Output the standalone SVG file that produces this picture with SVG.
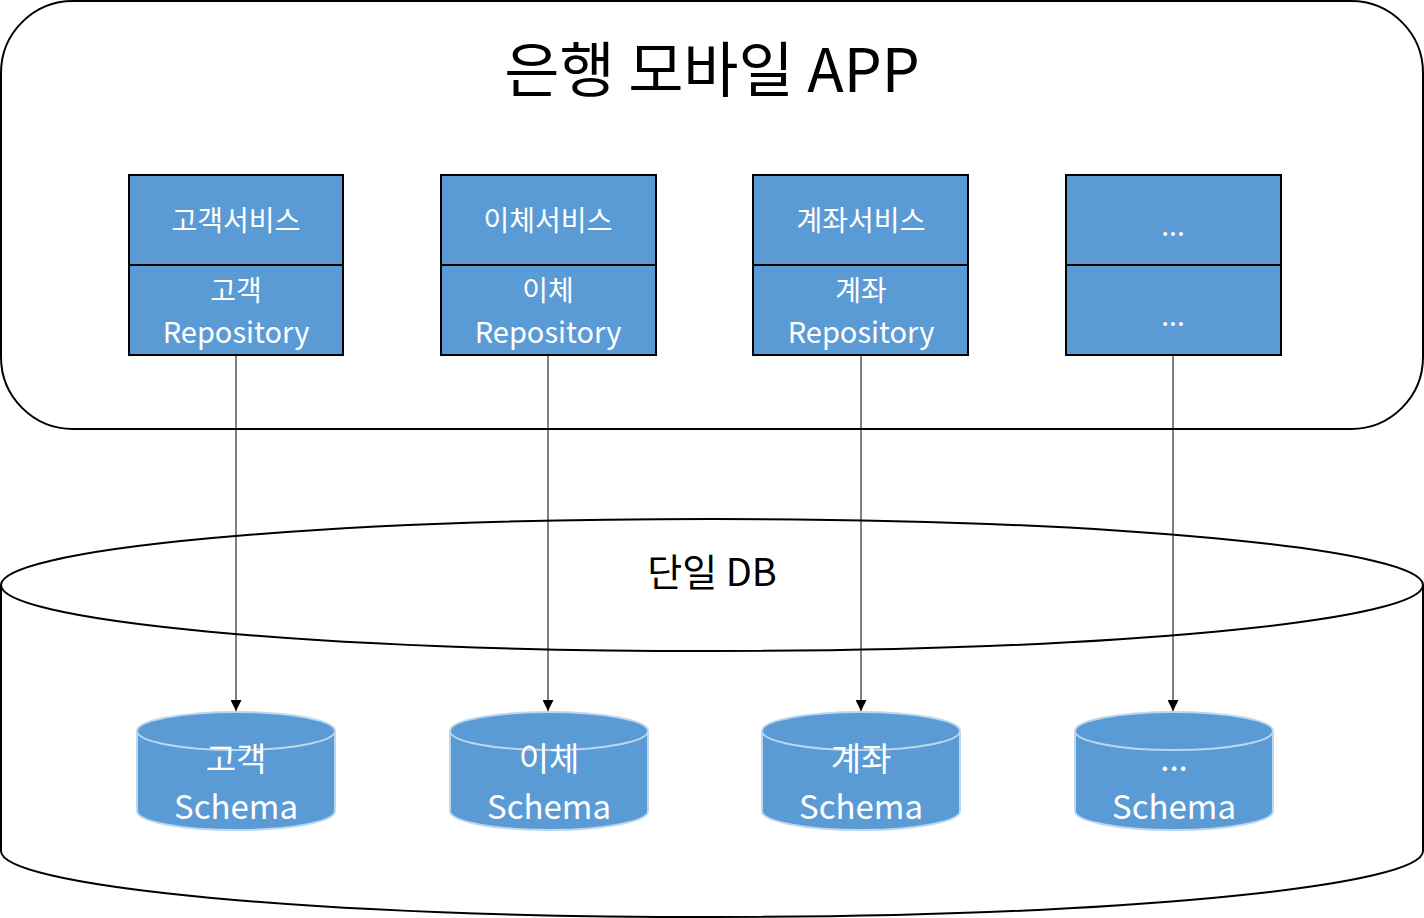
<svg xmlns="http://www.w3.org/2000/svg" width="1424" height="918" viewBox="0 0 1424 918">
<defs>
<style>
.t{font-family:"Noto Sans CJK KR","Noto Sans",sans-serif;text-anchor:middle}
.w{fill:#ffffff;font-size:28px}
.r{font-size:29px}
.s{fill:#ffffff;font-size:33px}
.box{fill:#5B9BD5;stroke:#000;stroke-width:2}
.cyl{fill:#5B9BD5;stroke:#BDD7EE;stroke-width:2}
.con{stroke:#000;stroke-width:1;fill:none}
</style>
<marker id="ah" viewBox="0 0 10 10" refX="10" refY="5" markerWidth="11" markerHeight="11" markerUnits="userSpaceOnUse" orient="auto">
<path d="M0,0 L10,5 L0,10 z" fill="#000"/>
</marker>
</defs>
<rect width="1424" height="918" fill="#fff"/>
<g id="app">
<rect x="1" y="1" width="1422" height="428" rx="72" ry="72" fill="#fff" stroke="#000" stroke-width="2"/>
<text class="t" x="712" y="92" font-size="60" fill="#000">은행 모바일 APP</text>
</g>
<g id="db">
<path d="M1,585 L1,851 A711,66 0 0 0 1423,851 L1423,585" fill="#fff" stroke="#000" stroke-width="2"/>
<ellipse cx="712" cy="585" rx="711" ry="66" fill="#fff" stroke="#000" stroke-width="2"/>
<text class="t" x="712" y="586" font-size="38" fill="#000">단일 DB</text>
</g>
<g id="svc1">
<rect class="box" x="129" y="175" width="214" height="90"/>
<rect class="box" x="129" y="265" width="214" height="90"/>
<text class="t w" x="236" y="231">고객서비스</text>
<text class="t w" x="236" y="301">고객</text>
<text class="t w r" x="236" y="343">Repository</text>
</g>
<g id="svc2">
<rect class="box" x="441" y="175" width="215" height="90"/>
<rect class="box" x="441" y="265" width="215" height="90"/>
<text class="t w" x="548" y="231">이체서비스</text>
<text class="t w" x="548" y="301">이체</text>
<text class="t w r" x="548" y="343">Repository</text>
</g>
<g id="svc3">
<rect class="box" x="753" y="175" width="215" height="90"/>
<rect class="box" x="753" y="265" width="215" height="90"/>
<text class="t w" x="861" y="231">계좌서비스</text>
<text class="t w" x="861" y="301">계좌</text>
<text class="t w r" x="861" y="343">Repository</text>
</g>
<g id="svc4">
<rect class="box" x="1066" y="175" width="215" height="90"/>
<rect class="box" x="1066" y="265" width="215" height="90"/>
<text class="t w" x="1173" y="236">...</text>
<text class="t w" x="1173" y="326">...</text>
</g>
<g id="schema1">
<path class="cyl" d="M137,731 L137,811 A99,19 0 0 0 335,811 L335,731 A99,19 0 0 0 137,731 z"/>
<path class="cyl" d="M137,731 A99,19 0 0 0 335,731" fill="none"/>
<text class="t s" x="236" y="771">고객</text>
<text class="t s" x="236" y="819">Schema</text>
</g>
<g id="schema2">
<path class="cyl" d="M450,731 L450,811 A99,19 0 0 0 648,811 L648,731 A99,19 0 0 0 450,731 z"/>
<path class="cyl" d="M450,731 A99,19 0 0 0 648,731" fill="none"/>
<text class="t s" x="549" y="771">이체</text>
<text class="t s" x="549" y="819">Schema</text>
</g>
<g id="schema3">
<path class="cyl" d="M762,731 L762,811 A99,19 0 0 0 960,811 L960,731 A99,19 0 0 0 762,731 z"/>
<path class="cyl" d="M762,731 A99,19 0 0 0 960,731" fill="none"/>
<text class="t s" x="861" y="771">계좌</text>
<text class="t s" x="861" y="819">Schema</text>
</g>
<g id="schema4">
<path class="cyl" d="M1075,731 L1075,811 A99,19 0 0 0 1273,811 L1273,731 A99,19 0 0 0 1075,731 z"/>
<path class="cyl" d="M1075,731 A99,19 0 0 0 1273,731" fill="none"/>
<text class="t s" x="1174" y="771">...</text>
<text class="t s" x="1174" y="819">Schema</text>
</g>
<g id="connectors">
<line class="con" x1="236" y1="355" x2="236" y2="711" marker-end="url(#ah)"/>
<line class="con" x1="548" y1="355" x2="548" y2="711" marker-end="url(#ah)"/>
<line class="con" x1="861" y1="355" x2="861" y2="711" marker-end="url(#ah)"/>
<line class="con" x1="1173" y1="355" x2="1173" y2="711" marker-end="url(#ah)"/>
</g>
</svg>
